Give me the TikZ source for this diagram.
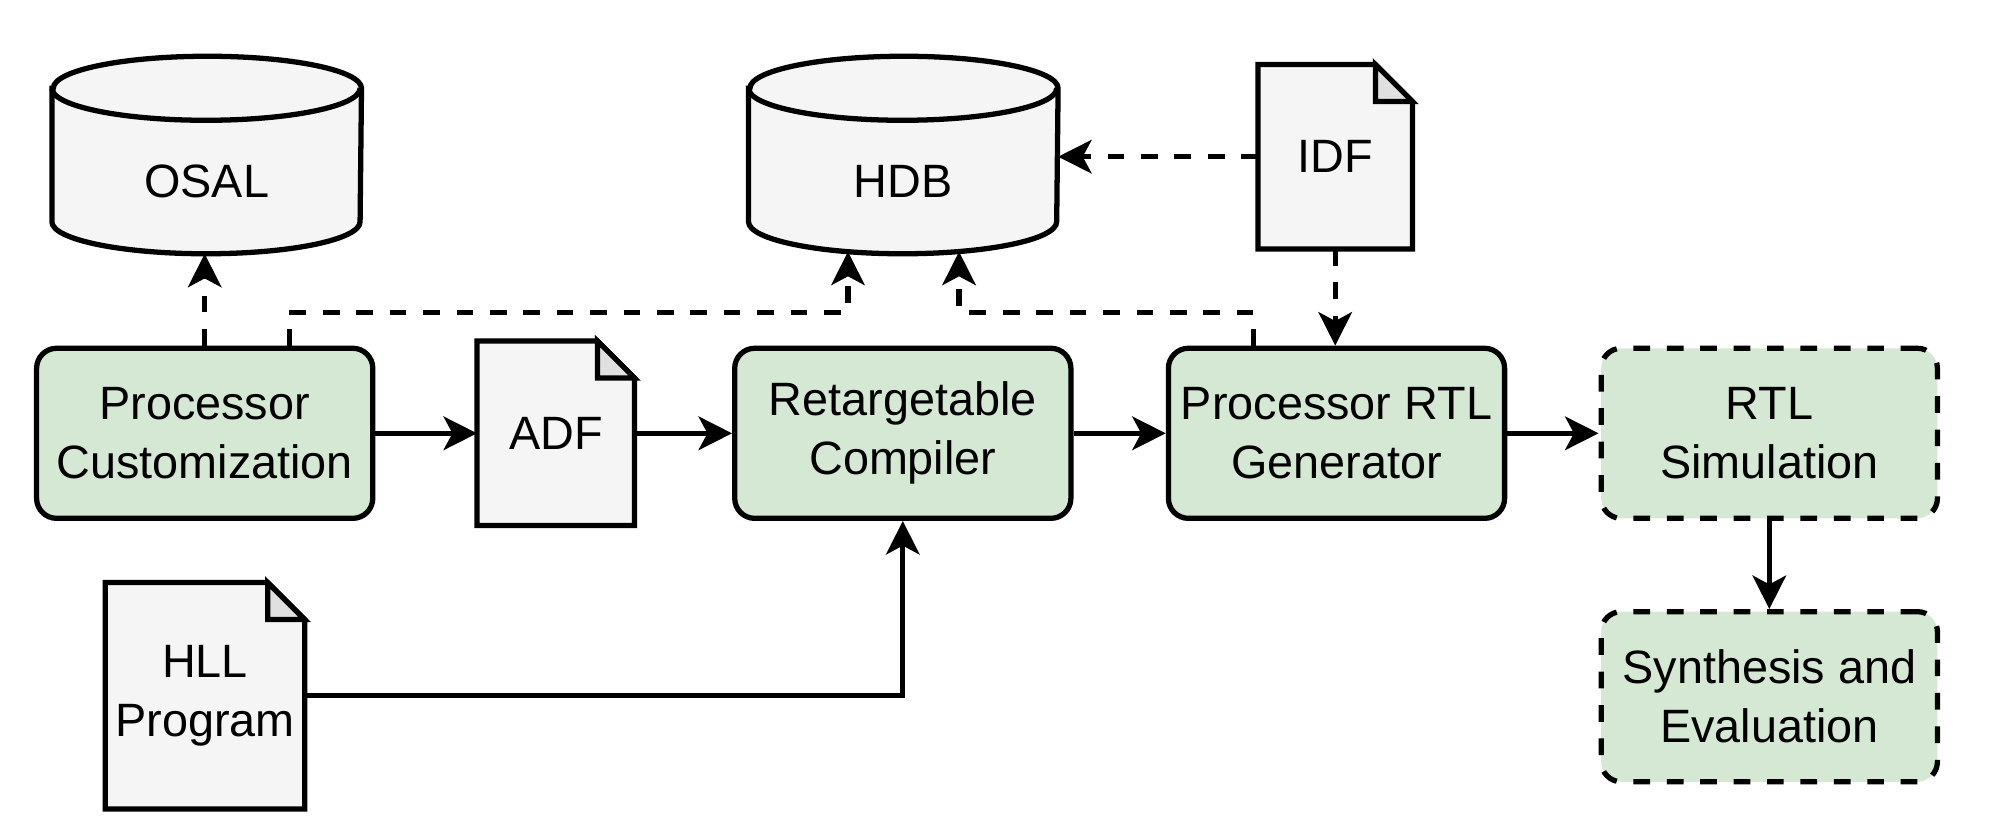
\documentclass[tikz,border=0pt]{standalone}
\usepackage{fontspec}
\setmainfont{Liberation Sans}
\usetikzlibrary{arrows.meta,backgrounds,calc}
\definecolor{boxgreen}{HTML}{D5E8D4}
\definecolor{docgray}{HTML}{F5F5F5}
\definecolor{foldgray}{HTML}{E0E0E0}
\tikzset{
  lw/.style={line width=1.5pt},
  proc/.style={draw, lw, fill=boxgreen, rounded corners=5.7pt, minimum width=3.36cm, minimum height=1.70cm, inner sep=1pt, align=center},
  optproc/.style={proc, dash pattern=on 4.75pt off 4.75pt},
  docnode/.style={inner sep=1pt, align=center},
  cylnode/.style={minimum width=3.08cm, minimum height=1.96cm, inner sep=1pt},
  flow/.style={lw, -{Stealth[length=9.5pt,width=9.5pt,inset=2.5pt]}},
  dflow/.style={flow, dash pattern=on 4.75pt off 4.75pt},
}
\newcommand\drawdoc[1]{%
  \filldraw[lw, fill=docgray, line join=miter] (#1.north west) -- ([xshift=-0.37cm]#1.north east) -- ([yshift=-0.37cm]#1.north east) -- (#1.south east) -- (#1.south west) -- cycle;
  \filldraw[lw, fill=foldgray, line join=miter] ([xshift=-0.37cm]#1.north east) -- ([xshift=-0.37cm,yshift=-0.37cm]#1.north east) -- ([yshift=-0.37cm]#1.north east) -- cycle;}
\newcommand\drawcyl[1]{%
  \filldraw[lw, fill=docgray] ([yshift=-0.32cm]#1.north west) -- ([yshift=0.32cm]#1.south west) arc[start angle=180,end angle=360,x radius=1.54cm,y radius=0.32cm] -- ([yshift=-0.32cm]#1.north east) arc[start angle=0,end angle=180,x radius=1.54cm,y radius=0.32cm] -- cycle;
  \draw[lw] ([yshift=-0.32cm]#1.north west) arc[start angle=180,end angle=360,x radius=1.54cm,y radius=0.32cm];}
\begin{document}
\begin{tikzpicture}[x=0.01cm,y=-0.01cm, font=\fontsize{13.3}{16.8}\selectfont]
\useasboundingbox (0,0) rectangle (2000,827);
\node[proc] (proc) at (204.7,433.3) {Processor\\Customization};
\node[docnode, minimum width=1.56cm, minimum height=1.83cm] (adf) at (555.8,433.3) {ADF};
\node[proc] (comp) at (902.8,433.3) {Retargetable\\Compiler};
\node[proc] (rtlgen) at (1336.5,433.3) {Processor RTL\\Generator};
\node[optproc] (rtlsim) at (1769.3,433.3) {RTL\\Simulation};
\node[optproc] (synth) at (1769.3,696.7) {Synthesis and\\Evaluation};
\node[cylnode] (osal) at (206.7,155) {\raisebox{-7.6pt}[\height][\depth]{OSAL}};
\node[cylnode] (hdb) at (903.3,155) {\raisebox{-7.6pt}[\height][\depth]{HDB}};
\node[docnode, minimum width=1.53cm, minimum height=1.83cm] (idf) at (1335.2,156.7) {IDF};
\node[docnode, minimum width=1.98cm, minimum height=2.25cm] (hll) at (205,695.8) {HLL\\Program};
\begin{scope}[on background layer]
  \drawdoc{adf}
  \drawdoc{idf}
  \drawdoc{hll}
  \drawcyl{osal}
  \drawcyl{hdb}
\end{scope}
\draw[flow] (proc.east) -- (adf.west);
\draw[flow] (adf.east) -- (comp.west);
\draw[flow] (comp.east) -- (rtlgen.west);
\draw[flow] (rtlgen.east) -- (rtlsim.west);
\draw[flow] (rtlsim.south) -- (synth.north);
\draw[flow] (hll.east) -| (comp.south);
\draw[dflow] (proc.north) -- (proc.north |- osal.south);
\draw[dflow] ([xshift=0.846cm]proc.north) -- ++(0,-33.3) -| ([xshift=-0.553cm,yshift=0.021cm]hdb.south);
\draw[dflow] ([xshift=-0.829cm]rtlgen.north) -- ++(0,-33.3) -| ([xshift=0.557cm,yshift=0.021cm]hdb.south);
\draw[dflow] (idf.west) -- (idf.west -| hdb.east);
\draw[dflow] (idf.south) -- (idf.south |- rtlgen.north);
\end{tikzpicture}
\end{document}
